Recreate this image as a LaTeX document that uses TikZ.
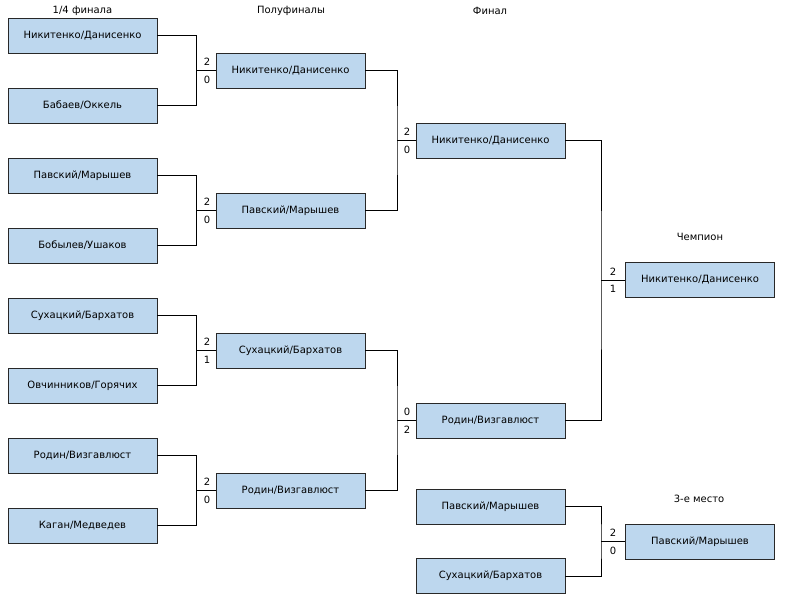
\documentclass[tikz,border=0pt]{standalone}
\usepackage{fontspec}
\setmainfont{DejaVu Sans}
\definecolor{boxfill}{RGB}{189,215,238}
\definecolor{boxline}{RGB}{40,40,40}
\begin{document}
\begin{tikzpicture}[x=1pt,y=-1pt,
  team/.style={draw=boxline,line width=0.9pt,fill=boxfill,minimum width=149pt,minimum height=35pt,inner sep=0pt,font=\fontsize{10}{12}\selectfont},
  head/.style={font=\fontsize{10}{12}\selectfont,inner sep=0pt},
  score/.style={font=\fontsize{10}{12}\selectfont,inner sep=0pt},
  conn/.style={draw=black,line width=0.9pt}]
\useasboundingbox (0,0) rectangle (797,607);
% headers
\node[head] (h1) at (82.5,11) {1/4 финала};
\node[head] (h2) at (291,11) {Полуфиналы};
\node[head] (h3) at (490,11) {Финал};
\node[head] (h4) at (700,237) {Чемпион};
\node[head] (h5) at (699,499) {3-е место};
% quarterfinals
\node[team] (q1) at (82.5,35.5) {Никитенко/Данисенко};
\node[team] (q2) at (82.5,105.5) {Бабаев/Оккель};
\node[team] (q3) at (82.5,175.5) {Павский/Марышев};
\node[team] (q4) at (82.5,245.5) {Бобылев/Ушаков};
\node[team] (q5) at (82.5,315.5) {Сухацкий/Бархатов};
\node[team] (q6) at (82.5,385.5) {Овчинников/Горячих};
\node[team] (q7) at (82.5,455.5) {Родин/Визгавлюст};
\node[team] (q8) at (82.5,525.5) {Каган/Медведев};
% semifinals
\node[team] (s1) at (290.5,70.5) {Никитенко/Данисенко};
\node[team] (s2) at (290.5,210.5) {Павский/Марышев};
\node[team] (s3) at (290.5,350.5) {Сухацкий/Бархатов};
\node[team] (s4) at (290.5,490.5) {Родин/Визгавлюст};
% final
\node[team] (f1) at (490.5,140.5) {Никитенко/Данисенко};
\node[team] (f2) at (490.5,420.5) {Родин/Визгавлюст};
% third place match
\node[team] (t1) at (490.5,506.5) {Павский/Марышев};
\node[team] (t2) at (490.5,576) {Сухацкий/Бархатов};
% champion and third
\node[team] (c1) at (700,280) {Никитенко/Данисенко};
\node[team] (c2) at (700,541.5) {Павский/Марышев};
% junctions
\coordinate (j1) at (196.5,70.5);
\coordinate (j2) at (196.5,210.5);
\coordinate (j3) at (196.5,350.5);
\coordinate (j4) at (196.5,490.5);
\coordinate (j5) at (397,140.5);
\coordinate (j6) at (397,420.5);
\coordinate (j7) at (601,280);
\coordinate (j8) at (601,541.5);
% connectors
\draw[conn] (q1.east) -| (j1) |- (q2.east); \draw[conn] (j1) -- (s1.west);
\draw[conn] (q3.east) -| (j2) |- (q4.east); \draw[conn] (j2) -- (s2.west);
\draw[conn] (q5.east) -| (j3) |- (q6.east); \draw[conn] (j3) -- (s3.west);
\draw[conn] (q7.east) -| (j4) |- (q8.east); \draw[conn] (j4) -- (s4.west);
\draw[conn] (s1.east) -| (j5) |- (s2.east); \draw[conn] (j5) -- (f1.west);
\draw[conn] (s3.east) -| (j6) |- (s4.east); \draw[conn] (j6) -- (f2.west);
\draw[conn] (f1.east) -| (j7) |- (f2.east); \draw[conn] (j7) -- (c1.west);
\draw[conn] (t1.east) -| (j8) |- (t2.east); \draw[conn] (j8) -- (c2.west);
% scores
\node[score] (a1) at (207,62) {2}; \node[score] (b1) at (207,79.5) {0};
\node[score] (a2) at (207,202) {2}; \node[score] (b2) at (207,219.5) {0};
\node[score] (a3) at (207,342) {2}; \node[score] (b3) at (207,359.5) {1};
\node[score] (a4) at (207,482) {2}; \node[score] (b4) at (207,499.5) {0};
\node[score] (a5) at (407,132) {2}; \node[score] (b5) at (407,149.5) {0};
\node[score] (a6) at (407,412) {0}; \node[score] (b6) at (407,429.5) {2};
\node[score] (a7) at (613,271.5) {2}; \node[score] (b7) at (613,289) {1};
\node[score] (a8) at (613,533) {2}; \node[score] (b8) at (613,550.5) {0};
\end{tikzpicture}
\end{document}
